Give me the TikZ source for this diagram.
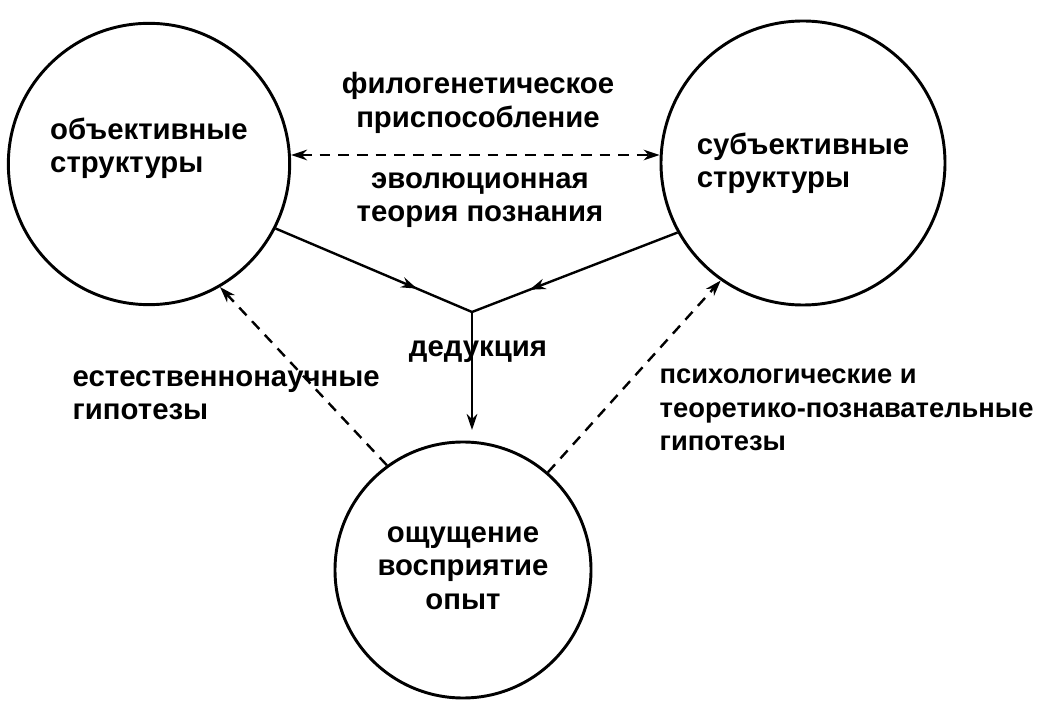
\documentclass[tikz,border=0pt]{standalone}
\usepackage{fontspec}
\setmainfont{Liberation Sans}
\usetikzlibrary{arrows.meta,decorations.markings}
\begin{document}
\begin{tikzpicture}[x=0.75pt,y=-0.75pt,
  circ/.style={draw,line width=2.2pt,circle,inner sep=0pt,minimum size=#1},
  lbl/.style={font=\fontsize{22}{25}\selectfont\bfseries,align=left},
  conn/.style={line width=1.8pt},
  midarrow/.style={postaction={decorate},decoration={markings,mark=at position #1 with {\arrow{Stealth[length=12pt,width=8pt]}}}},
  dsh/.style={line width=1.8pt,dash pattern=on 8pt off 6pt}]
\useasboundingbox (0,0) rectangle (1054,723);
\node[circ=211pt] (L) at (149,164) {};
\node[circ=213pt] (R) at (803,163) {};
\node[circ=192pt] (B) at (463,570) {};
\node[lbl] at (149,148) {объективные\\структуры};
\node[lbl] at (803,163) {субъективные\\структуры};
\node[lbl,align=center] at (478,103) {филогенетическое\\приспособление};
\node[lbl,align=center] at (480,200) {эволюционная\\теория познания};
\node[lbl,align=center] at (463,568) {ощущение\\восприятие\\опыт};
\node[lbl] (ded) at (478,352) {дедукция};
\node[lbl,anchor=west] at (68,395) {естественнонаучные\\гипотезы};
\node[lbl,anchor=west,font=\fontsize{20.5}{25}\selectfont\bfseries] at (655,410) {психологические и\\теоретико-познавательные\\гипотезы};
\coordinate (J) at (472,312);
\coordinate (Bt) at (472,430);
\draw[dsh,{Stealth[length=12pt,width=8pt]}-{Stealth[length=12pt,width=8pt]}] (L.east |- 0,155) -- (R.west |- 0,155);
\draw[conn,midarrow=0.72] (L.-27) -- (J);
\draw[conn,midarrow=0.72] (R.-151) -- (J);
\draw[conn,-{Stealth[length=12pt,width=8pt]}] (J) -- (Bt);
\draw[dsh,-{Stealth[length=12pt,width=8pt]}] (B.126) -- (L.-60);
\draw[dsh,-{Stealth[length=12pt,width=8pt]}] (B.49) -- (R.-125);
\end{tikzpicture}
\end{document}
